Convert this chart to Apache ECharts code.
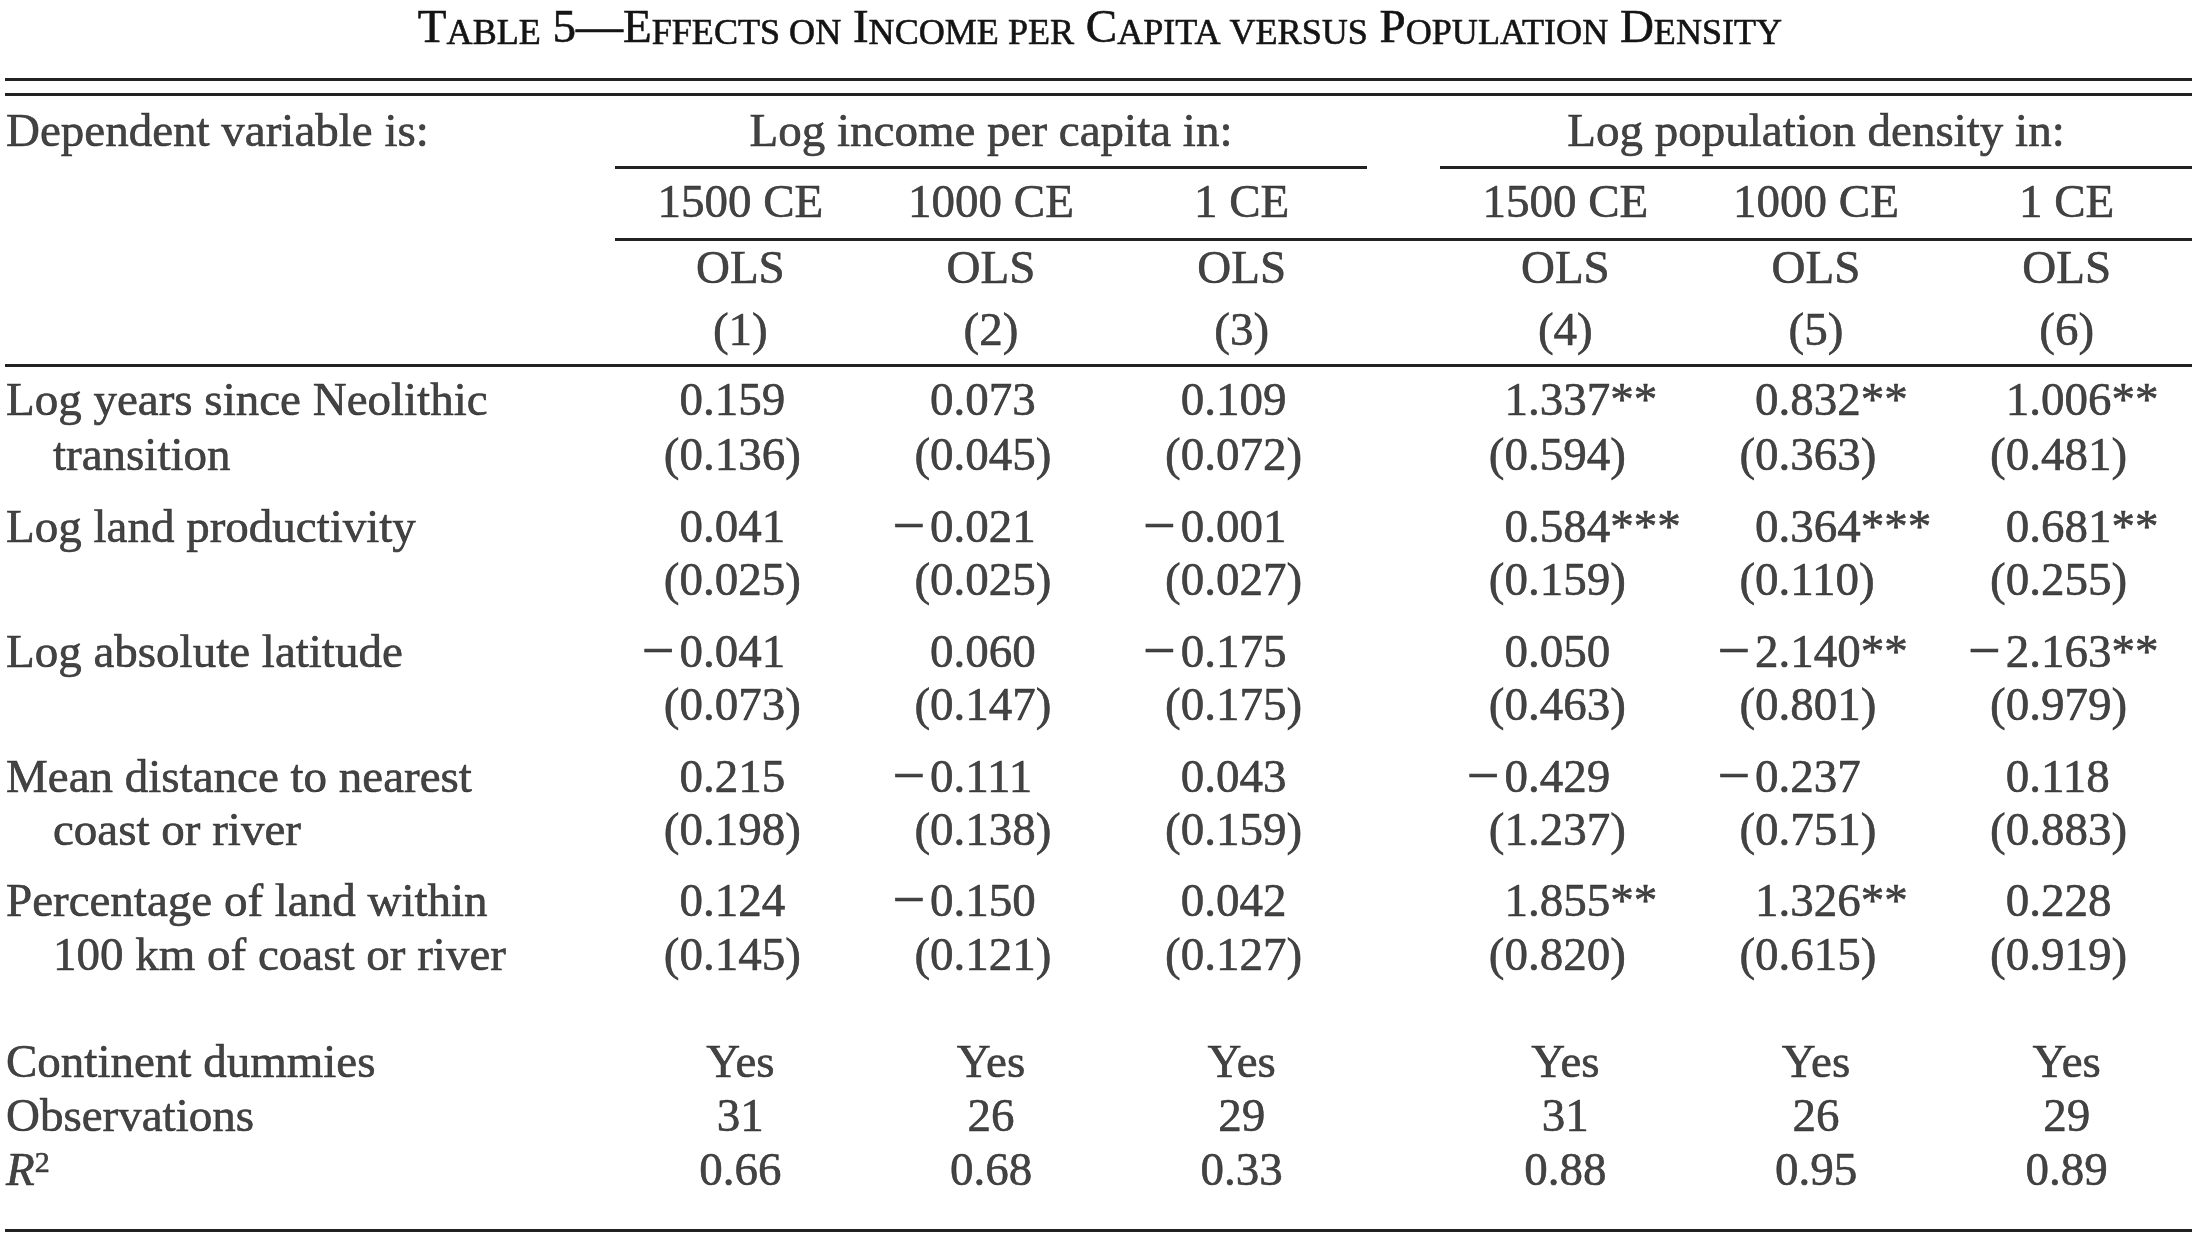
<!DOCTYPE html>
<html>
<head>
<meta charset="utf-8">
<script src="https://cdn.jsdelivr.net/npm/echarts@6/dist/echarts.min.js"></script>
<style>
html,body{margin:0;padding:0;background:#ffffff;}
#chart{width:2200px;height:1244px;}
</style>
</head>
<body>
<div id="chart"></div>
<script>
// ------------------------- DATA -------------------------
const titleParts = [
  ['L', 'T'], ['s', 'ABLE'], ['L', ' 5\u2014E'], ['s', 'FFECTS ON'], ['L', ' I'], ['s', 'NCOME PER'],
  ['L', ' C'], ['s', 'APITA VERSUS'], ['L', ' P'], ['s', 'OPULATION'], ['L', ' D'], ['s', 'ENSITY']
];
const dependentLabel = 'Dependent variable is:';
const groupLabels = ['Log income per capita in:', 'Log population density in:'];
const periods = ['1500 CE', '1000 CE', '1 CE', '1500 CE', '1000 CE', '1 CE'];
const methods = ['OLS', 'OLS', 'OLS', 'OLS', 'OLS', 'OLS'];
const columnNumbers = ['(1)', '(2)', '(3)', '(4)', '(5)', '(6)'];
const variableLabels = [
  ['Log years since Neolithic', 'transition'],
  ['Log land productivity', ''],
  ['Log absolute latitude', ''],
  ['Mean distance to nearest', 'coast or river'],
  ['Percentage of land within', '100 km of coast or river']
];
const coefficients = [
  ['0.159', '0.073', '0.109', '1.337**', '0.832**', '1.006**'],
  ['0.041', '\u22120.021', '\u22120.001', '0.584***', '0.364***', '0.681**'],
  ['\u22120.041', '0.060', '\u22120.175', '0.050', '\u22122.140**', '\u22122.163**'],
  ['0.215', '\u22120.111', '0.043', '\u22120.429', '\u22120.237', '0.118'],
  ['0.124', '\u22120.150', '0.042', '1.855**', '1.326**', '0.228']
];
const standardErrors = [
  ['(0.136)', '(0.045)', '(0.072)', '(0.594)', '(0.363)', '(0.481)'],
  ['(0.025)', '(0.025)', '(0.027)', '(0.159)', '(0.110)', '(0.255)'],
  ['(0.073)', '(0.147)', '(0.175)', '(0.463)', '(0.801)', '(0.979)'],
  ['(0.198)', '(0.138)', '(0.159)', '(1.237)', '(0.751)', '(0.883)'],
  ['(0.145)', '(0.121)', '(0.127)', '(0.820)', '(0.615)', '(0.919)']
];
const summaryLabels = ['Continent dummies', 'Observations'];
const rSquaredLabel = ['R', '2'];
const continentDummies = ['Yes', 'Yes', 'Yes', 'Yes', 'Yes', 'Yes'];
const observations = ['31', '26', '29', '31', '26', '29'];
const rSquared = ['0.66', '0.68', '0.33', '0.88', '0.95', '0.89'];

// ------------------------- LAYOUT & STYLE -------------------------
const FONT = '"Liberation Serif", "Times New Roman", serif';
const FS = 47;
const INK = '#141414';
const RULE = '#222222';
const STROKE = 0.6;
const LAYOUT = {
  height: 1244,
  grids: [
    { left: 6, width: 609 },      // 0: row labels
    { left: 615, width: 752 },    // 1: income columns (1)-(3)
    { left: 1440, width: 752 },   // 2: density columns (4)-(6)
    { left: 615, width: 1577 },   // 3: span of all numeric columns
    { left: 5, width: 2187 }      // 4: full table width
  ],
  rowY: {
    groupHeader: 130.5, period: 201.5, method: 267, number: 329,
    coef: [399, 526, 651, 776, 900.6],
    se: [454, 579, 704, 829.5, 954],
    summary: [1061.5, 1115.5, 1169.5]
  },
  ruleY: { full: [79, 94.5, 365, 1230.7], group: [167.3], period: [239] },
  textDrop: 3.5,
  indent: 47,
  decimalShift: -37.4,
  minusSize: 58,
  minusGap: 5,
  ruleWidth: 3,
  titleTop: 3,
  smallCapSize: 36.1,
  titleLine: 50
};

// ------------------------- BUILD -------------------------
function tstyle(extra) {
  return Object.assign({ color: INK, fontFamily: FONT, fontSize: FS, fontWeight: 'normal',
    textBorderColor: INK, textBorderWidth: STROKE }, extra || {});
}

function textSeries(gridIndex, data, labelExtra) {
  return {
    type: 'scatter', xAxisIndex: gridIndex, yAxisIndex: gridIndex,
    symbolSize: 1, itemStyle: { color: 'rgba(0,0,0,0)' }, silent: true, animation: false,
    data: data,
    label: Object.assign({
      show: true, position: 'inside', align: 'center', verticalAlign: 'middle',
      offset: [0, LAYOUT.textDrop],
      formatter: function (p) { return p.data.t; }
    }, tstyle(), labelExtra || {}),
    emphasis: { disabled: true }
  };
}
function ruleLines(ys) {
  return {
    symbol: ['none', 'none'], silent: true, animation: false,
    label: { show: false },
    emphasis: { disabled: true },
    lineStyle: { color: RULE, width: LAYOUT.ruleWidth, type: 'solid' },
    data: ys.map(function (y) { return { yAxis: y }; })
  };
}
function splitDecimal(s) {
  const i = s.indexOf('.');
  return [s.slice(0, i), s.slice(i)];
}

const R = LAYOUT.rowY;
const D = LAYOUT.textDrop;
const series = [];

// Row labels
const labelData = [{ value: [0, R.groupHeader], t: dependentLabel }];
const indentData = [];
variableLabels.forEach(function (pair, r) {
  labelData.push({ value: [0, R.coef[r]], t: pair[0] });
  if (pair[1]) indentData.push({ value: [0, R.se[r]], t: pair[1] });
});
summaryLabels.forEach(function (s, k) { labelData.push({ value: [0, R.summary[k]], t: s }); });
series.push(textSeries(0, labelData, { align: 'left' }));
series.push(textSeries(0, indentData, { align: 'left', offset: [LAYOUT.indent, D] }));
series.push(textSeries(0, [{ value: [0, R.summary[2]], t: '{i|' + rSquaredLabel[0] + '}{sup|' + rSquaredLabel[1] + '}' }], {
  align: 'left',
  rich: {
    i: tstyle({ fontStyle: 'italic', lineHeight: 47 }),
    sup: tstyle({ fontSize: 30, lineHeight: 30, verticalAlign: 'top' })
  }
}));

// Numeric column groups
[1, 2].forEach(function (g) {
  const cols = g === 1 ? [0, 1, 2] : [3, 4, 5];
  const centered = [{ value: [1, R.groupHeader], t: groupLabels[g - 1] }];
  const intParts = [];
  const fracParts = [];
  cols.forEach(function (c, k) {
    centered.push({ value: [k, R.period], t: periods[c] });
    centered.push({ value: [k, R.method], t: methods[c] });
    centered.push({ value: [k, R.number], t: columnNumbers[c] });
    centered.push({ value: [k, R.summary[0]], t: continentDummies[c] });
    centered.push({ value: [k, R.summary[1]], t: observations[c] });
    centered.push({ value: [k, R.summary[2]], t: rSquared[c] });
    coefficients.forEach(function (row, r) {
      const a = splitDecimal(row[c]);
      intParts.push({ value: [k, R.coef[r]], t: a[0] });
      fracParts.push({ value: [k, R.coef[r]], t: a[1] });
      const b = splitDecimal(standardErrors[r][c]);
      intParts.push({ value: [k, R.se[r]], t: b[0] });
      fracParts.push({ value: [k, R.se[r]], t: b[1] });
    });
  });
  const cs = textSeries(g, centered);
  cs.markLine = ruleLines(LAYOUT.ruleY.group);
  series.push(cs);
  series.push(textSeries(g, intParts, {
    align: 'right', offset: [LAYOUT.decimalShift, D],
    formatter: function (p) {
      const t = p.data.t;
      if (t.charAt(0) === '\u2212') return '{m|\u2212}{n|' + t.slice(1) + '}';
      return '{n|' + t + '}';
    },
    rich: {
      m: tstyle({ fontSize: LAYOUT.minusSize, padding: [0, LAYOUT.minusGap, 0, 0] }),
      n: tstyle()
    }
  }));
  series.push(textSeries(g, fracParts, { align: 'left', offset: [LAYOUT.decimalShift, D] }));
});

// Rules spanning several column groups
const spanSeries = textSeries(3, []);
spanSeries.markLine = ruleLines(LAYOUT.ruleY.period);
series.push(spanSeries);
const fullSeries = textSeries(4, []);
fullSeries.markLine = ruleLines(LAYOUT.ruleY.full);
series.push(fullSeries);

const grid = LAYOUT.grids.map(function (g) {
  return { left: g.left, width: g.width, top: 0, height: LAYOUT.height, containLabel: false };
});
const hiddenValue = { type: 'value', min: 0, max: 1, show: false, splitLine: { show: false } };
const xAxis = [
  Object.assign({ gridIndex: 0 }, hiddenValue),
  { gridIndex: 1, type: 'category', data: columnNumbers.slice(0, 3), show: false },
  { gridIndex: 2, type: 'category', data: columnNumbers.slice(3, 6), show: false },
  Object.assign({ gridIndex: 3 }, hiddenValue),
  Object.assign({ gridIndex: 4 }, hiddenValue)
];
const yAxis = LAYOUT.grids.map(function (g, i) {
  return { gridIndex: i, type: 'value', min: 0, max: LAYOUT.height, inverse: true, show: false, splitLine: { show: false } };
});

const SC = LAYOUT.smallCapSize;
const TL = LAYOUT.titleLine;
const option = {
  backgroundColor: '#ffffff',
  animation: false,
  title: {
    text: titleParts.map(function (p) { return '{' + p[0] + '|' + p[1] + '}'; }).join(''),
    left: 'center', top: LAYOUT.titleTop, padding: 0,
    textStyle: {
      fontWeight: 'normal',
      rich: {
        L: tstyle({ lineHeight: TL, verticalAlign: 'bottom' }),
        s: tstyle({ fontSize: SC, lineHeight: TL - 2 * 0.3375 * (FS - SC), verticalAlign: 'bottom' })
      }
    }
  },
  grid: grid,
  xAxis: xAxis,
  yAxis: yAxis,
  series: series
};

const chart = echarts.init(document.getElementById('chart'), null, { renderer: 'canvas' });
chart.setOption(option);
</script>
</body>
</html>
